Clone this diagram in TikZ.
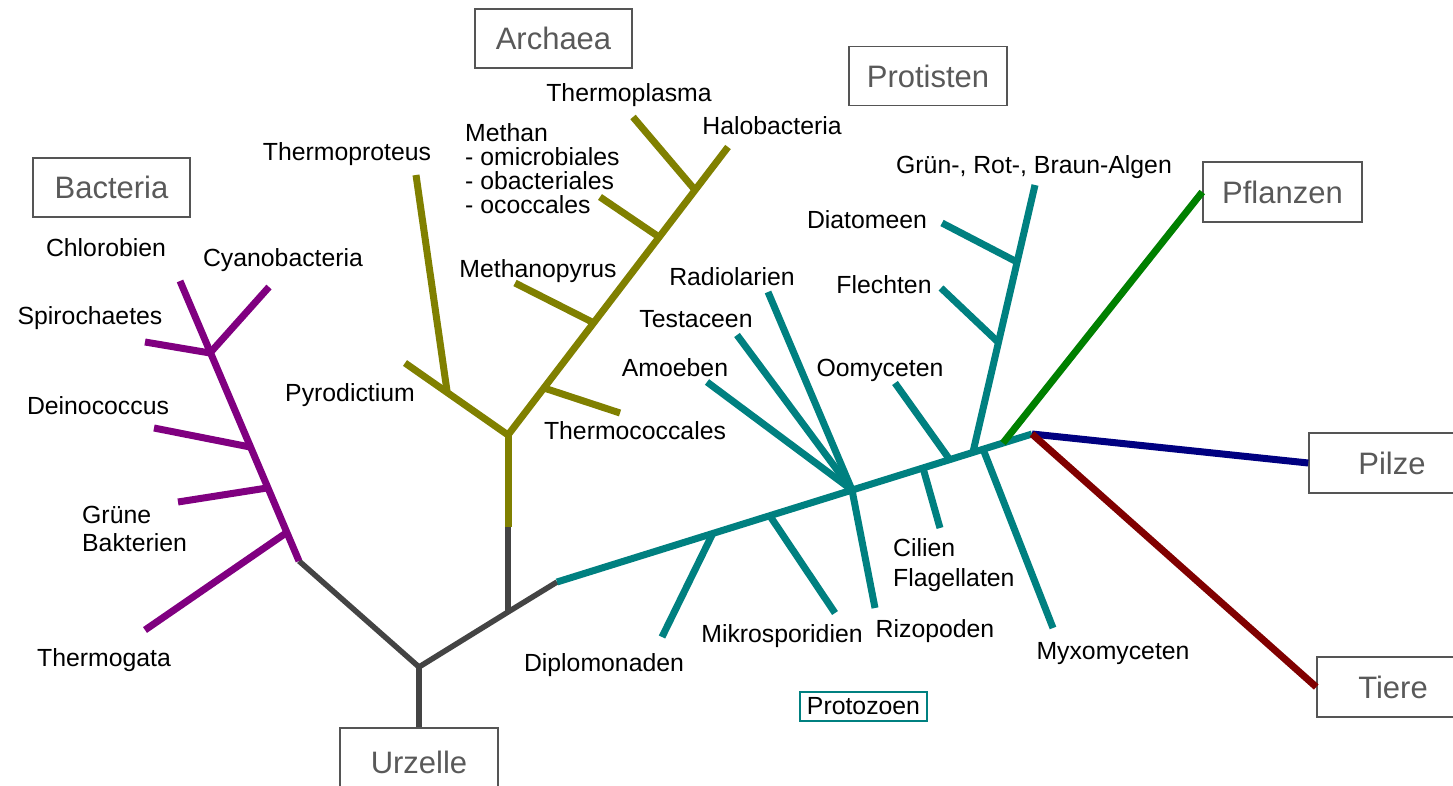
\documentclass[tikz,border=0pt]{standalone}
\usepackage{fontspec}
\setmainfont{Liberation Sans}
\definecolor{bacpurple}{HTML}{800080}
\definecolor{arcolive}{HTML}{808000}
\definecolor{proteal}{HTML}{008080}
\definecolor{rootgray}{HTML}{444444}
\definecolor{plantgreen}{HTML}{008000}
\definecolor{fungnavy}{HTML}{000080}
\definecolor{animred}{HTML}{800000}
\definecolor{boxgray}{HTML}{555555}
\definecolor{boxtext}{HTML}{595959}
\begin{document}
\begin{tikzpicture}[x=1pt,y=-1pt,
  br/.style={line width=7pt},
  rootline/.style={line width=5.5pt, draw=rootgray},
  bacline/.style={br, draw=bacpurple},
  arcline/.style={br, draw=arcolive},
  proline/.style={br, draw=proteal},
  lbl/.style={font=\fontsize{24.8}{26}\selectfont, inner sep=0pt, anchor=base, text=black},
  mlbl/.style={lbl, anchor=north west, align=left},
  grpbox/.style={draw=boxgray, line width=1.5pt, text=boxtext, font=\fontsize{31}{33}\selectfont, inner sep=0pt, minimum height=59pt},
  protobox/.style={draw=proteal, line width=1.5pt, text=black, font=\fontsize{24.8}{26}\selectfont, inner sep=0pt, minimum width=127pt, minimum height=29pt}
]
\useasboundingbox (0,0) rectangle (1453,786);
\clip (0,0) rectangle (1453,786);

% group boxes
\node[grpbox, minimum width=157pt] (bacteria) at (111.5,187.5) {Bacteria};
\node[grpbox, minimum width=157pt] (archaea) at (553.5,38.5) {Archaea};
\node[grpbox, minimum width=158pt] (protisten) at (928,76) {Protisten};
\node[grpbox, minimum width=159pt, minimum height=60pt] (pflanzen) at (1282.5,192) {Pflanzen};
\node[grpbox, minimum width=166pt, minimum height=60pt] (pilze) at (1392,463) {Pilze};
\node[grpbox, minimum width=152pt, minimum height=60pt] (tiere) at (1393,687) {Tiere};
\node[grpbox, minimum width=158pt, minimum height=68pt] (urzelle) at (419,762) {Urzelle};
\node[protobox] (protozoen) at (863.5,706.5) {Protozoen};

% coordinates
\coordinate (root) at (419,667);
\coordinate (bac0) at (299,561);
\coordinate (afork0) at (508,612);
\coordinate (arc0) at (508,527);
\coordinate (pro0) at (557,582);
% bacteria
\coordinate (bactop) at (180,281);
\coordinate (bn1) at (210,353);
\coordinate (bn2) at (250,447);
\coordinate (bn3) at (267,488);
\coordinate (bn4) at (286,533);
\coordinate (tcyano) at (269,287);
\coordinate (tspiro) at (145,342);
\coordinate (tdeino) at (154,428);
\coordinate (tgrune) at (178,502);
\coordinate (ttherm) at (145,630);
% archaea
\coordinate (afork) at (508,435);
\coordinate (apyro) at (447,391);
\coordinate (tpyro) at (405,363);
\coordinate (ttprot) at (416,175);
\coordinate (thalo) at (728,147);
\coordinate (acocc) at (544,388);
\coordinate (tcocc) at (620,413);
\coordinate (amepy) at (594,323);
\coordinate (tmepy) at (515,283);
\coordinate (ameth) at (659,237);
\coordinate (tmeth) at (600,197);
\coordinate (aplas) at (695,190);
\coordinate (tplas) at (633,117);
% protists
\coordinate (proend) at (1032,434);
\coordinate (pdipl) at (713,533);
\coordinate (tdipl) at (662,637);
\coordinate (pmikro) at (770,516);
\coordinate (tmikro) at (835,613);
\coordinate (phub) at (852,490);
\coordinate (trizo) at (875,608);
\coordinate (tamoe) at (707,382);
\coordinate (ttesta) at (737,335);
\coordinate (tradio) at (768,292);
\coordinate (pcil) at (923,468);
\coordinate (tcil) at (940,528);
\coordinate (poomy) at (950,460);
\coordinate (toomy) at (895,383);
\coordinate (palg) at (973,452);
\coordinate (talg) at (1035,185);
\coordinate (pflech) at (998,342);
\coordinate (tflech) at (941,288);
\coordinate (pdiat) at (1017,262);
\coordinate (tdiat) at (942,223);
\coordinate (pmyxo) at (983,449);
\coordinate (tmyxo) at (1053,628);
\coordinate (ppfl) at (1003,443);

% root (gray)
\draw[rootline] (urzelle.north) -- (root);
\draw[rootline] (root) -- (bac0);
\draw[rootline] (root) -- (afork0) -- (pro0);
\draw[rootline] (afork0) -- (arc0);

% bacteria (purple)
\draw[bacline] (bac0) -- (bactop);
\draw[bacline] (bn1) -- (tcyano);
\draw[bacline] (bn1) -- (tspiro);
\draw[bacline] (bn2) -- (tdeino);
\draw[bacline] (bn3) -- (tgrune);
\draw[bacline] (bn4) -- (ttherm);

% archaea (olive)
\draw[arcline] (arc0) -- (afork);
\draw[arcline] (afork) -- (tpyro);
\draw[arcline] (apyro) -- (ttprot);
\draw[arcline] (afork) -- (thalo);
\draw[arcline] (acocc) -- (tcocc);
\draw[arcline] (amepy) -- (tmepy);
\draw[arcline] (ameth) -- (tmeth);
\draw[arcline] (aplas) -- (tplas);

% protists (teal)
\draw[proline] (pro0) -- (proend);
\draw[proline] (pdipl) -- (tdipl);
\draw[proline] (pmikro) -- (tmikro);
\draw[proline] (phub) -- (trizo);
\draw[proline] (phub) -- (tamoe);
\draw[proline] (phub) -- (ttesta);
\draw[proline] (phub) -- (tradio);
\draw[proline] (pcil) -- (tcil);
\draw[proline] (poomy) -- (toomy);
\draw[proline] (palg) -- (talg);
\draw[proline] (pflech) -- (tflech);
\draw[proline] (pdiat) -- (tdiat);
\draw[proline] (pmyxo) -- (tmyxo);

% kingdoms
\draw[br, draw=plantgreen] (ppfl) -- (pflanzen.west);
\draw[br, draw=fungnavy] (proend) -- (pilze.west);
\draw[br, draw=animred] (proend) -- (tiere.west);

% labels bacteria
\node[lbl] (lchloro) at (106,257) {Chlorobien};
\node[lbl] (lcyano) at (283,267) {Cyanobacteria};
\node[lbl] (lspiro) at (90,324) {Spirochaetes};
\node[lbl] (ldeino) at (98,414) {Deinococcus};
\node[mlbl, font=\fontsize{24.8}{28}\selectfont] (lgrune) at (82,506) {Grüne\\Bakterien};
\node[lbl] (ltherm) at (104,666) {Thermogata};
% labels archaea
\node[lbl] (ltprot) at (347,161) {Thermoproteus};
\node[lbl] (lpyro) at (350,401) {Pyrodictium};
\node[lbl] (lcocc) at (635,439) {Thermococcales};
\node[lbl] (lmepy) at (538,277) {Methanopyrus};
\node[mlbl, font=\fontsize{24.8}{24}\selectfont] (lmeth) at (465,123) {Methan\\- omicrobiales\\- obacteriales\\- ococcales};
\node[lbl] (lplas) at (629,102) {Thermoplasma};
\node[lbl] (lhalo) at (772,135) {Halobacteria};
% labels protists
\node[lbl] (ldipl) at (604,671) {Diplomonaden};
\node[lbl] (lmikro) at (782,642) {Mikrosporidien};
\node[lbl] (lrizo) at (935,637) {Rizopoden};
\node[mlbl, font=\fontsize{24.8}{30}\selectfont] (lcil) at (893,538) {Cilien\\Flagellaten};
\node[lbl] (lmyxo) at (1113,659) {Myxomyceten};
\node[lbl] (lamoe) at (675,376) {Amoeben};
\node[lbl] (ltesta) at (696,327) {Testaceen};
\node[lbl] (lradio) at (732,285) {Radiolarien};
\node[lbl] (loomy) at (880,376) {Oomyceten};
\node[lbl] (lflech) at (884,294) {Flechten};
\node[lbl] (ldiat) at (867,229) {Diatomeen};
\node[lbl] (lalg) at (1034,174) {Grün-, Rot-, Braun-Algen};
\end{tikzpicture}
\end{document}
